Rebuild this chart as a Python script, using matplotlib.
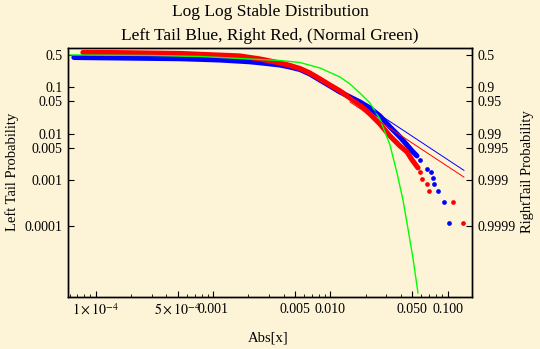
"""Log-log tail plot of a stable distribution sample: left and right
empirical tail probabilities, power-law fits and the normal tail."""

import matplotlib
import matplotlib.pyplot as plt

matplotlib.use("Agg")

plt.rcParams["font.family"] = ["Liberation Serif", "DejaVu Serif"]
plt.rcParams["mathtext.fontset"] = "stix"

# Left tail (blue): dense part of the empirical tail, then the sparse extreme points
left_x = [6.53e-5, 1.61e-4, 5.24e-4, 1.148e-3, 2.065e-3, 2.77e-3, 3.72e-3,
          4.53e-3, 5.52e-3, 6.71e-3, 8.17e-3, 9.95e-3, 1.211e-2, 1.79e-2,
          2.18e-2, 2.65e-2, 3.23e-2, 3.93e-2, 4.51e-2, 4.98e-2, 5.48e-2]
left_p = [0.442, 0.431, 0.416, 0.390, 0.357, 0.331, 0.304,
          0.275, 0.243, 0.194, 0.144, 0.107, 0.0794, 0.0483,
          0.0358, 0.0241, 0.01397, 0.00847, 0.00570, 0.00424, 0.00331]
left_tail_x = [5.82e-2, 6.67e-2, 7.21e-2, 7.50e-2, 7.66e-2, 8.28e-2, 9.31e-2, 0.1028]
left_tail_p = [0.00272, 0.00173, 0.00149, 0.00111, 0.000824, 0.000583, 0.000336, 0.000118]

# Right tail (red)
right_x = [7.79e-5, 1.273e-4, 5.24e-4, 1.698e-3, 2.52e-3, 3.72e-3, 4.53e-3,
           5.52e-3, 6.71e-3, 8.17e-3, 9.95e-3, 1.211e-2, 1.79e-2, 2.18e-2,
           2.65e-2, 3.23e-2, 3.93e-2, 4.51e-2, 4.98e-2, 5.60e-2]
right_p = [0.566, 0.566, 0.539, 0.476, 0.410, 0.336, 0.297,
           0.255, 0.204, 0.152, 0.112, 0.0837, 0.0417, 0.0266,
           0.0162, 0.00890, 0.00543, 0.00404, 0.00272, 0.00182]
right_tail_x = [5.82e-2, 6.05e-2, 6.67e-2, 6.93e-2, 0.1112, 0.1352]
right_tail_p = [0.00149, 0.00106, 0.000824, 0.000583, 0.000336, 0.000118]

# Normal distribution tail (green)
normal_x = [6.05e-5, 2.90e-4, 7.74e-4, 2.065e-3, 3.72e-3, 5.52e-3, 8.17e-3,
            1.211e-2, 1.472e-2, 1.79e-2, 2.18e-2, 2.65e-2, 3.23e-2, 3.71e-2,
            4.17e-2, 4.59e-2, 5.07e-2, 5.60e-2]
normal_p = [0.5, 0.488, 0.464, 0.410, 0.380, 0.344, 0.262,
            0.1674, 0.1182, 0.0755, 0.0460, 0.0207, 0.00570, 0.00141,
            0.000369, 9.17e-5, 2.06e-5, 3.62e-6]

# Power-law fits to each tail
left_fit_x = [0.01472, 0.138]
left_fit_p = [0.0679, 0.00161]
right_fit_x = [0.01472, 0.138]
right_fit_p = [0.0484, 0.00115]

x_ticks = [1e-4, 5e-4, 0.001, 0.005, 0.01, 0.05, 0.1]
x_labels = [r"$1\times10^{-4}$", r"$5\times10^{-4}$", "0.001", "0.005",
            "0.010", "0.050", "0.100"]
y_ticks = [0.5, 0.1, 0.05, 0.01, 0.005, 0.001, 0.0001]
left_labels = ["0.5", "0.1", "0.05", "0.01", "0.005", "0.001", "0.0001"]
right_labels = ["0.5", "0.9", "0.95", "0.99", "0.995", "0.999", "0.9999"]

BG = "#fdf3d7"


def main():
    fig = plt.figure(figsize=(5.4, 3.49), dpi=100, facecolor=BG)
    ax = fig.add_axes([0.1259, 0.149, 0.748, 0.7135])
    ax.set_facecolor(BG)
    ax.set_xscale("log")
    ax.set_yscale("log")

    band = dict(lw=3.7, solid_capstyle="round", solid_joinstyle="round")
    dot = dict(ls="none", marker="o", ms=3.4, mew=0)
    ax.plot(left_x, left_p, color="#0000ff", **band)
    ax.plot(left_tail_x, left_tail_p, color="#0000ff", **dot)
    ax.plot(right_x, right_p, color="#ff0000", **band)
    ax.plot(right_tail_x, right_tail_p, color="#ff0000", **dot)
    ax.plot(normal_x, normal_p, color="#00ff00", lw=1.0)
    ax.plot(left_fit_x, left_fit_p, color="#0000ff", lw=0.7)
    ax.plot(right_fit_x, right_fit_p, color="#ff0000", lw=0.7)

    ax.set_xlim(5.81e-5, 0.1614)
    ax.set_ylim(2.96e-6, 0.708)

    ax.set_xticks(x_ticks)
    ax.set_xticklabels(x_labels)
    ax.xaxis.set_minor_locator(
        matplotlib.ticker.LogLocator(base=10, subs=[2, 3, 4, 6, 7, 8, 9], numticks=20)
    )
    ax.xaxis.set_minor_formatter(matplotlib.ticker.NullFormatter())
    ax.set_yticks(y_ticks)
    ax.set_yticklabels(left_labels)
    ax.yaxis.set_minor_locator(matplotlib.ticker.NullLocator())

    ax.tick_params(which="major", direction="in", length=4, width=0.8,
                   labelsize=10, pad=4)
    ax.tick_params(which="minor", direction="in", length=2, width=0.6)
    ax.tick_params(axis="x", top=False, which="both")

    ax_r = ax.twinx()
    ax_r.set_yscale("log")
    ax_r.set_ylim(ax.get_ylim())
    ax_r.set_yticks(y_ticks)
    ax_r.set_yticklabels(right_labels)
    ax_r.yaxis.set_minor_locator(matplotlib.ticker.NullLocator())
    ax_r.tick_params(direction="in", length=4, width=0.8, labelsize=10, pad=4)

    for spine in list(ax.spines.values()) + list(ax_r.spines.values()):
        spine.set_linewidth(1.0)

    fig.text(0.5, 1 - 11.5 / 349, "Log Log Stable Distribution",
             ha="center", va="center", fontsize=12.5)
    fig.text(0.5, 1 - 36.5 / 349, "Left Tail Blue, Right Red, (Normal Green)",
             ha="center", va="center", fontsize=12.5)
    fig.text(268 / 540, 1 - 338 / 349, "Abs[x]", ha="center", va="center",
             fontsize=10.5)
    fig.text(12 / 540, 1 - 172 / 349, "Left Tail Probability", rotation=90,
             ha="center", va="center", fontsize=10.5)
    fig.text(528 / 540, 1 - 172 / 349, "RightTail Probability", rotation=90,
             ha="center", va="center", fontsize=10.5)

    fig.savefig("out.png", dpi=100, facecolor=BG)


if __name__ == "__main__":
    main()
